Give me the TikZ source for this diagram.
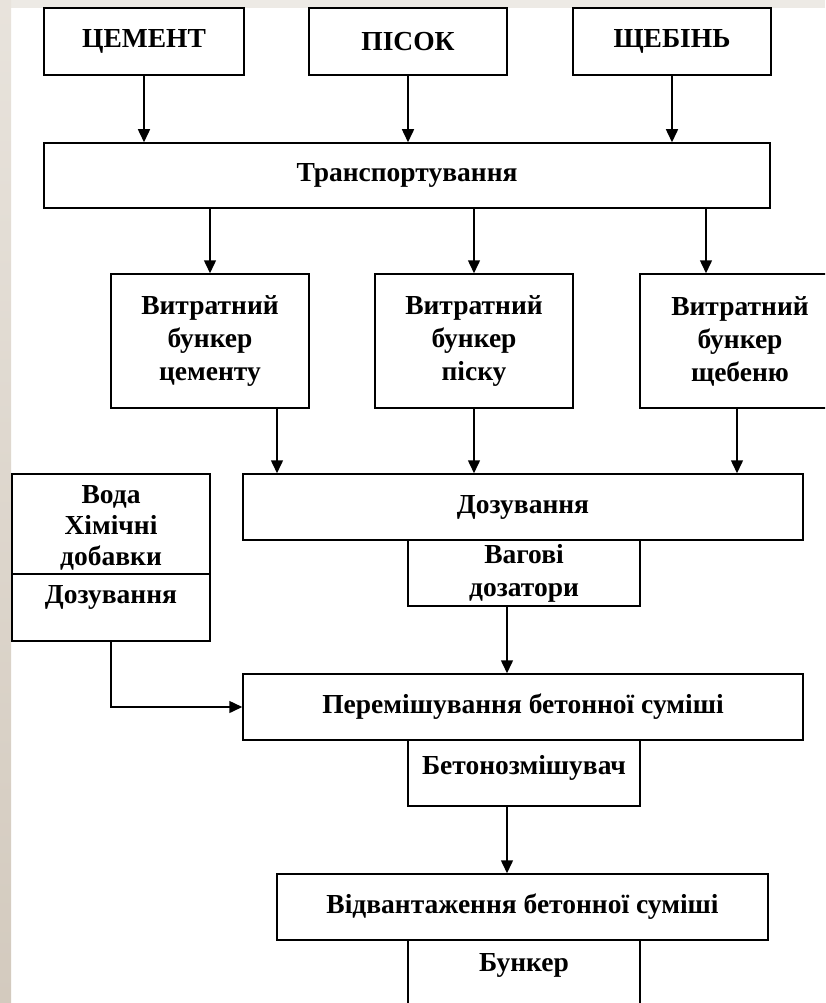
\documentclass[tikz,border=0pt]{standalone}
\usepackage{fontspec}
\setmainfont{Liberation Serif}
\usepackage{xcolor}
\usepackage{tikz}
\usetikzlibrary{arrows.meta,positioning,calc}
\definecolor{Paper}{HTML}{EDEAE5}
\definecolor{StripTop}{HTML}{E8E3DC}
\definecolor{StripBot}{HTML}{D3CABE}

\begin{document}
\begin{tikzpicture}[x=1pt,y=-1pt,line width=1.5pt,
  every node/.style={font=\fontsize{27.5}{33}\selectfont\bfseries},
  blk/.style={draw,fill=white,rectangle,inner sep=0pt,align=center},
  txt/.style={inner sep=0pt,align=center},
  flow/.style={-{Triangle[length=13pt,width=12pt]}}]
\useasboundingbox (0,0) rectangle (825,1003);
\clip (0,0) rectangle (825,1003);
\fill[white] (0,0) rectangle (825,1003);
\fill[Paper] (0,0) rectangle (825,8);
\shade[top color=StripTop,bottom color=StripBot] (0,0) rectangle (11,1003);

% raw materials
\node[blk,minimum width=200,minimum height=67] (cement) at (144,41.5) {ЦЕМЕНТ};
\node[blk,minimum width=198,minimum height=67] (pisok) at (408,41.5) {ПІСОК};
\node[blk,minimum width=198,minimum height=67] (scheben) at (672,41.5) {ЩЕБІНЬ};
\node[blk,minimum width=726,minimum height=65] (transp) at (407,175.5) {Транспортування};

% hoppers
\node[blk,minimum width=198,minimum height=134] (hopc) at (210,341) {Витратний\\бункер\\цементу};
\node[blk,minimum width=198,minimum height=134] (hopp) at (474,341) {Витратний\\бункер\\піску};
\node[blk,minimum width=200,minimum height=134] (hops) at (740,341) {Витратний\\бункер\\щебеню};

% dosing
\node[blk,minimum width=560,minimum height=66] (dos) at (523,507) {Дозування};
\node[blk,minimum width=232,minimum height=66] (scales) at (524,573) {Вагові\\дозатори};
\node[blk,minimum width=198,minimum height=167] (water) at (111,557.5) {};
\coordinate (wdiv) at ($(water.north)+(0,100.5)$);
\draw (water.west |- wdiv) -- (water.east |- wdiv);
\node[txt,font=\fontsize{27.5}{31}\selectfont\bfseries] (waterlbl) at (111,528) {Вода\\Хімічні\\добавки};
\node[txt,below=11pt of wdiv] (waterdos) {Дозування};

% mixing and shipping
\node[blk,minimum width=560,minimum height=66] (mix) at (523,707) {Перемішування бетонної суміші};
\node[blk,minimum width=232,minimum height=66] (mixer) at (524,773) {};
\node[txt,below=15pt of mixer.north] (mixerlbl) {Бетонозмішувач};
\node[blk,minimum width=491,minimum height=66] (ship) at (522.5,907) {Відвантаження бетонної суміші};
\node[blk,minimum width=232,minimum height=100] (bunker) at (524,990) {};
\node[txt,below=13pt of bunker.north] (bunkerlbl) {Бункер};

\draw[flow] (cement.south) -- (cement.south |- transp.north);
\draw[flow] (pisok.south) -- (pisok.south |- transp.north);
\draw[flow] (scheben.south) -- (scheben.south |- transp.north);
\draw[flow] (transp.south -| hopc.north) -- (hopc.north);
\draw[flow] (transp.south -| hopp.north) -- (hopp.north);
\draw[flow] ([xshift=-34pt]hops.north |- transp.south) -- ([xshift=-34pt]hops.north);
\draw[flow] ([xshift=67pt]hopc.south) -- ([xshift=67pt]hopc.south |- dos.north);
\draw[flow] (hopp.south) -- (hopp.south |- dos.north);
\draw[flow] ([xshift=-3pt]hops.south) -- ([xshift=-3pt]hops.south |- dos.north);
\draw[flow] ([xshift=-17pt]scales.south) -- ([xshift=-17pt]scales.south |- mix.north);
\draw[flow] (water.south) |- (mix.west);
\draw[flow] ([xshift=-17pt]mixer.south) -- ([xshift=-17pt]mixer.south |- ship.north);
\end{tikzpicture}
\end{document}
